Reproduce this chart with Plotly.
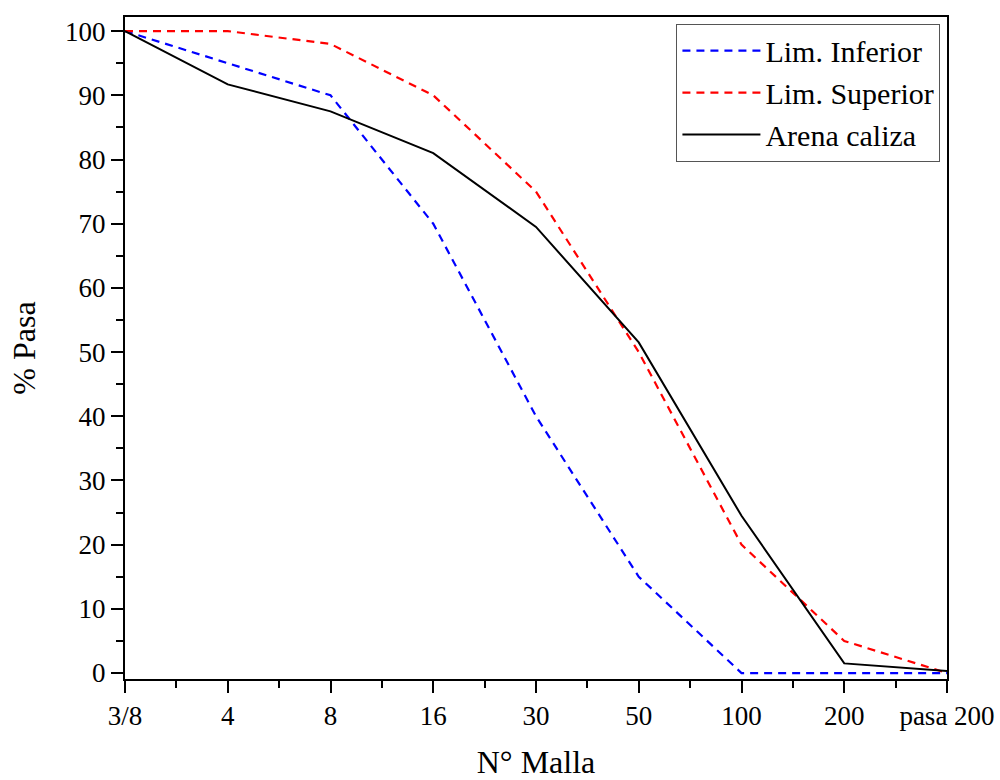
import plotly.graph_objects as go

categories = ["3/8", "4", "8", "16", "30", "50", "100", "200", "pasa 200"]
lim_inferior = [100, 95, 90, 70, 40, 15, 0, 0, 0]
lim_superior = [100, 100, 98, 90, 75, 50, 20, 5, 0]
arena_caliza = [100, 91.7, 87.5, 81.0, 69.5, 51.5, 24.5, 1.5, 0.3]

xpos = list(range(len(categories)))
FONT = "Liberation Serif"

fig = go.Figure()
fig.add_trace(go.Scatter(x=xpos, y=lim_inferior, mode="lines", name="Lim. Inferior",
                         line=dict(color="#0000ff", width=2.2, dash="8px,6px")))
fig.add_trace(go.Scatter(x=xpos, y=lim_superior, mode="lines", name="Lim. Superior",
                         line=dict(color="#ff0000", width=2.2, dash="8px,6px")))
fig.add_trace(go.Scatter(x=xpos, y=arena_caliza, mode="lines", name="Arena caliza",
                         line=dict(color="#000000", width=2)))

fig.update_layout(
    width=1000, height=780,
    margin=dict(l=125, r=53, t=17, b=101),
    paper_bgcolor="white", plot_bgcolor="white",
    font=dict(family=FONT, size=27, color="black"),
    showlegend=True,
    legend=dict(x=0.992, y=0.99, xanchor="right", yanchor="top",
                bordercolor="#555555", borderwidth=1, bgcolor="white",
                font=dict(family=FONT, size=30), itemwidth=78,
                tracegroupgap=0),
)
fig.update_xaxes(
    range=[0, 8], tickmode="array", tickvals=xpos, ticktext=categories,
    automargin=False,
    showgrid=False, zeroline=False,
    showline=True, linecolor="black", linewidth=2, mirror=True,
    ticks="outside", ticklen=12, tickwidth=2, tickcolor="black",
    minor=dict(tickmode="array", tickvals=[i + 0.5 for i in range(8)],
               ticks="outside", ticklen=7, tickwidth=2, tickcolor="black", showgrid=False),
    tickfont=dict(family=FONT, size=27),
    title=dict(text="N° Malla", font=dict(family=FONT, size=32), standoff=38),
)
fig.update_yaxes(
    range=[-0.93, 102.2], tickmode="array", tickvals=list(range(0, 101, 10)),
    automargin=False,
    showgrid=False, zeroline=False,
    showline=True, linecolor="black", linewidth=2, mirror=True,
    ticks="outside", ticklen=12, tickwidth=2, tickcolor="black",
    minor=dict(tickmode="array", tickvals=list(range(5, 100, 10)),
               ticks="outside", ticklen=7, tickwidth=2, tickcolor="black", showgrid=False),
    tickfont=dict(family=FONT, size=27),
    title=dict(text="% Pasa", font=dict(family=FONT, size=32), standoff=20),
)

fig.write_html("out.html")
